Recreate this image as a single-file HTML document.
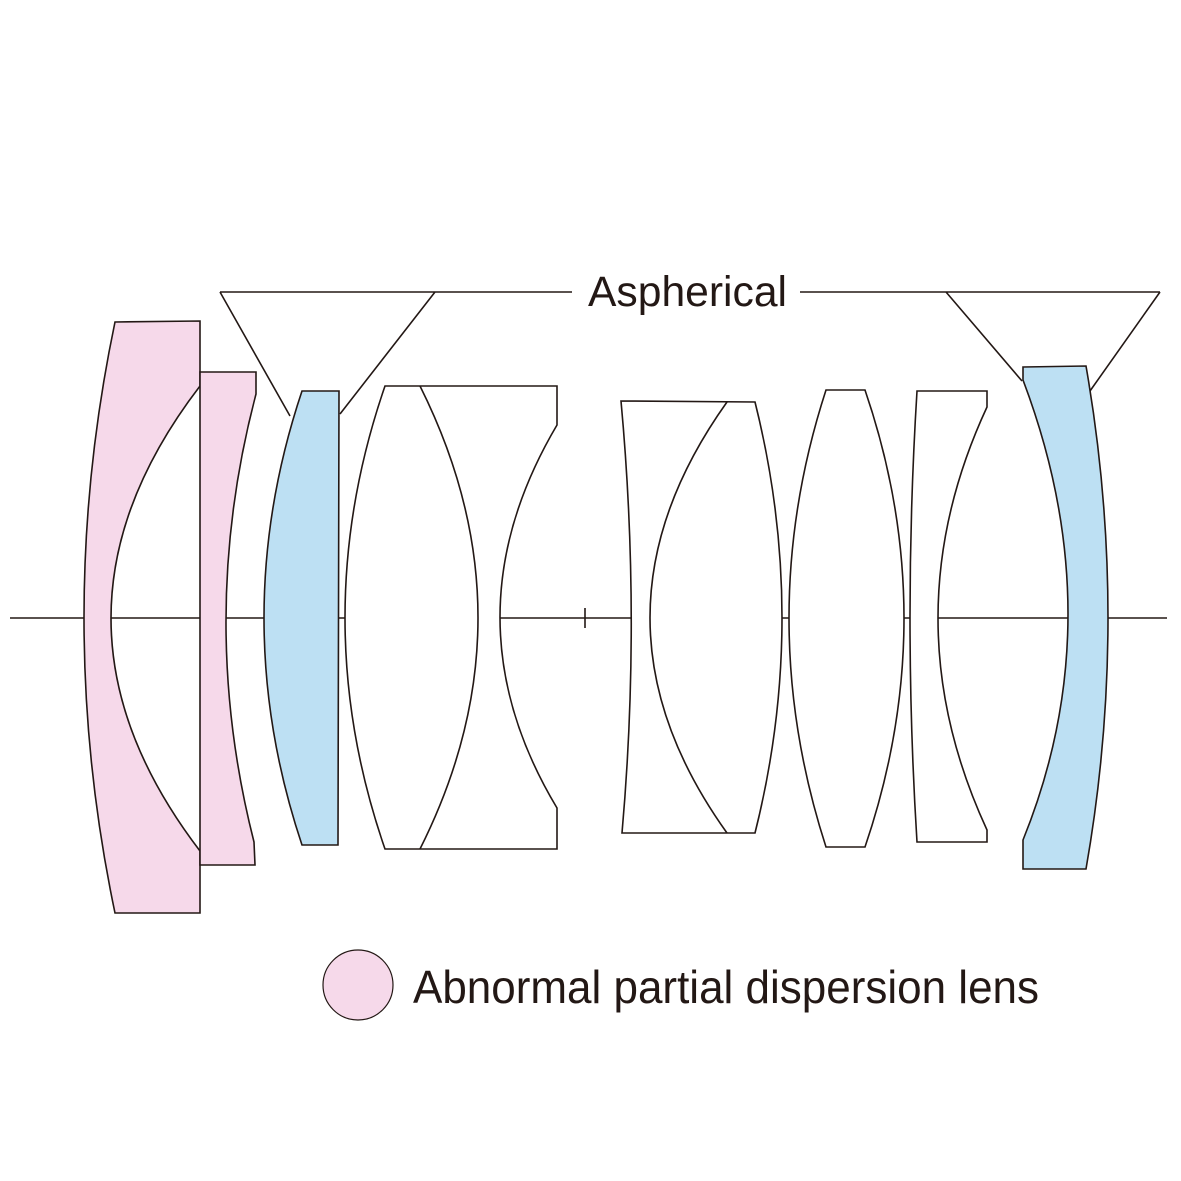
<!DOCTYPE html>
<html><head><meta charset="utf-8"><style>
html,body{margin:0;padding:0;background:#fff;}
svg{display:block}
text{font-family:"Liberation Sans",sans-serif;fill:#231815}
</style></head><body>
<svg width="1181" height="1181" viewBox="0 0 1181 1181" xmlns="http://www.w3.org/2000/svg">
<g stroke="#231815" stroke-width="1.6" fill="none">
<path d="M10 618H84 M111 618H200 M226 618H264 M339 618H345 M500 618H631 M782 618H789 M904 618H910 M938 618H1068 M1108 618H1167 M585 608V628"/>
<path d="M220 292H572 M800 292H1160 M220 292L290 416 M435 292L340 414 M946 292L1022 381 M1160 292L1090 391"/>
</g>
<g stroke="#231815" stroke-width="1.6">
<path fill="#f6d9ea" d="M115 322L200 321L200 386Q22 618 200 851L200 913L115 913Q53 618 115 322Z"/>
<path fill="#f6d9ea" d="M200 372L256 372L256 394Q197 618 254 842L255 865L200 865Z"/>
<path fill="#bde0f3" d="M302 391L339 391L338 845L302 845Q226 618 302 391Z"/>
<path fill="#fff" d="M385 386L557 386L557 425Q443 618 557 808L557 849L385 849Q305 618 385 386Z"/>
<path fill="none" d="M420 386Q536 618 420 849"/>
<path fill="#fff" d="M621 401L755 402Q809 618 755 833L622 833Q641 618 621 401Z"/>
<path fill="none" d="M727 402Q573 618 727 833"/>
<path fill="#fff" d="M826 390L865 390Q943 618 865 847L826 847Q752 618 826 390Z"/>
<path fill="#fff" d="M917 391L987 391L987 407Q889 618 987 830L987 842L917 842Q903 618 917 391Z"/>
<path fill="#bde0f3" d="M1023 367L1086 366Q1130 618 1086 869L1023 869L1023 840Q1113 618 1023 380Z"/>
<circle cx="358" cy="985" r="35" fill="#f6d9ea" stroke-width="1.2"/>
</g>
<text x="588" y="306" font-size="43" textLength="199" lengthAdjust="spacingAndGlyphs">Aspherical</text>
<text x="413" y="1003" font-size="46" textLength="626" lengthAdjust="spacingAndGlyphs">Abnormal partial dispersion lens</text>
</svg>
</body></html>
